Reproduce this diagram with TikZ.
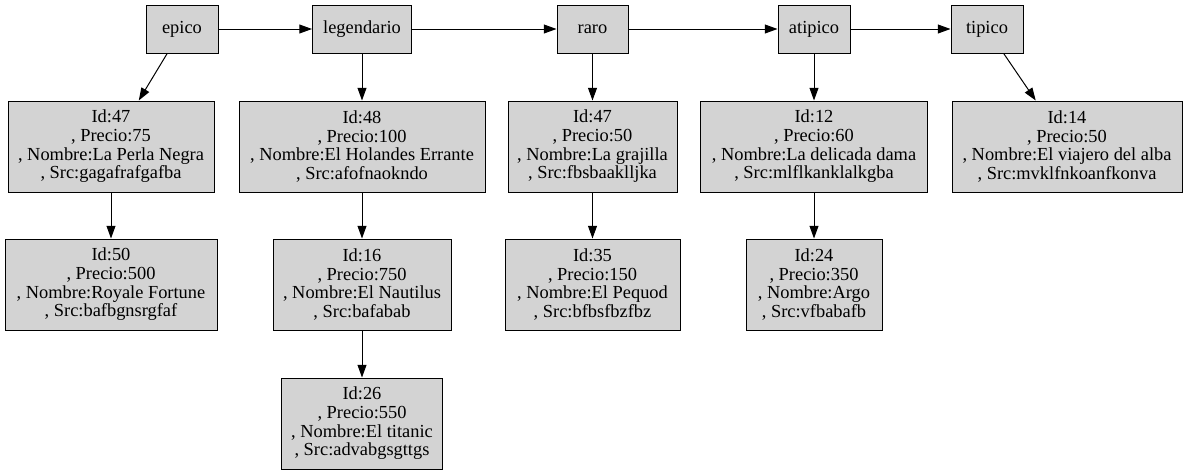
\documentclass[tikz,border=0pt]{standalone}
\usepackage{fontspec}
\setmainfont{Liberation Serif}
\usetikzlibrary{arrows.meta}
\tikzset{
  box/.style={draw=black, fill={rgb,255:red,211;green,211;blue,211}, line width=0.75pt,
    rectangle, inner sep=0pt, align=center,
    font=\fontsize{13.8}{14}\selectfont},
  bw/.style={minimum width=#1*0.75pt},
  tall/.style={minimum height=68.25pt},
  short/.style={minimum height=36pt},
  conn/.style={draw=black, line width=0.75pt, -{Triangle[length=9.5pt,width=6.7pt]}}
}
\begin{document}
\begin{tikzpicture}[x=0.75pt,y=-0.75pt]
\useasboundingbox (0,0) rectangle (1185,475);
% top row
\node[box, bw=72, short] (epico) at (182,29) {epico};
\node[box, bw=99, short] (legendario) at (362,29) {legendario};
\node[box, bw=71, short] (raro) at (592.5,29) {raro};
\node[box, bw=72, short] (atipico) at (814,29) {atipico};
\node[box, bw=72, short] (tipico) at (987,29) {tipico};
% second row
\node[box, bw=206, tall] (b1) at (111,146.5) {Id:47\\, Precio:75\\, Nombre:La Perla Negra\\, Src:gagafrafgafba};
\node[box, bw=246, tall] (b2) at (362,146.5) {Id:48\\, Precio:100\\, Nombre:El Holandes Errante\\, Src:afofnaokndo};
\node[box, bw=169, tall] (b3) at (592.5,146.5) {Id:47\\, Precio:50\\, Nombre:La grajilla\\, Src:fbsbaaklljka};
\node[box, bw=227, tall] (b4) at (814,146.5) {Id:12\\, Precio:60\\, Nombre:La delicada dama\\, Src:mlflkanklalkgba};
\node[box, bw=230, tall] (b5) at (1067,146.5) {Id:14\\, Precio:50\\, Nombre:El viajero del alba\\, Src:mvklfnkoanfkonva};
% third row
\node[box, bw=212, tall] (c1) at (111,284.5) {Id:50\\, Precio:500\\, Nombre:Royale Fortune\\, Src:bafbgnsrgfaf};
\node[box, bw=178, tall] (c2) at (362,284.5) {Id:16\\, Precio:750\\, Nombre:El Nautilus\\, Src:bafabab};
\node[box, bw=175, tall] (c3) at (592.5,284.5) {Id:35\\, Precio:150\\, Nombre:El Pequod\\, Src:bfbsfbzfbz};
\node[box, bw=136, tall] (c4) at (814,284.5) {Id:24\\, Precio:350\\, Nombre:Argo\\, Src:vfbabafb};
% fourth row
\node[box, bw=161, tall] (d2) at (362,423.5) {Id:26\\, Precio:550\\, Nombre:El titanic\\, Src:advabgsgttgs};
% connectors
\draw[conn] (epico) -- (legendario);
\draw[conn] (legendario) -- (raro);
\draw[conn] (raro) -- (atipico);
\draw[conn] (atipico) -- (tipico);
\draw[conn] (epico) -- (b1);
\draw[conn] (legendario) -- (b2);
\draw[conn] (raro) -- (b3);
\draw[conn] (atipico) -- (b4);
\draw[conn] (tipico) -- (b5);
\draw[conn] (b1) -- (c1);
\draw[conn] (b2) -- (c2);
\draw[conn] (b3) -- (c3);
\draw[conn] (b4) -- (c4);
\draw[conn] (c2) -- (d2);
\end{tikzpicture}
\end{document}
